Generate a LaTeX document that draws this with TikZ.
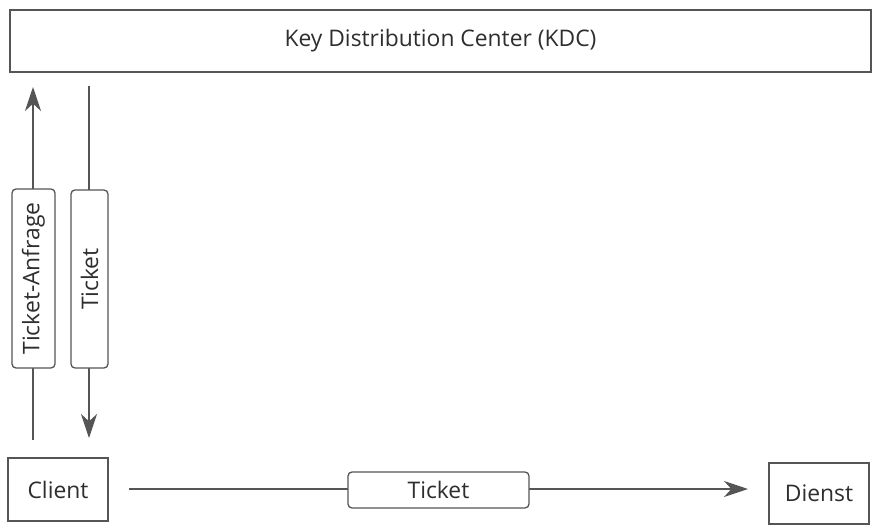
\documentclass[tikz,border=0pt]{standalone}
\usepackage{fontspec}
\setmainfont{Open Sans}
\usetikzlibrary{arrows.meta}
\definecolor{ln}{HTML}{555555}
\definecolor{tx}{HTML}{2E2E2E}
\begin{document}
\begin{tikzpicture}[x=0.03cm,y=-0.03cm,
  box/.style={draw=ln,line width=1.2pt,fill=white,inner sep=0pt,text=tx,font=\fontsize{19.5}{22}\selectfont},
  lbl/.style={draw=ln,line width=1.1pt,fill=white,rounded corners=0.12cm,inner sep=0pt,text=tx,font=\fontsize{19.5}{22}\selectfont},
  conn/.style={draw=ln,line width=1.1pt,-{Stealth[length=0.72cm,width=0.48cm,inset=0.22cm]}}]
\useasboundingbox (0,0) rectangle (883,530);
\node[box,minimum width=861*0.03cm,minimum height=62*0.03cm] (kdc) at (440.5,41) {Key Distribution Center (KDC)};
\node[box,minimum width=100*0.03cm,minimum height=63*0.03cm] (client) at (58,489.5) {Client};
\node[box,minimum width=100*0.03cm,minimum height=61*0.03cm] (dienst) at (819,493.5) {Dienst};
\coordinate (a1) at (33,440);
\coordinate (a2) at (33,87);
\coordinate (b1) at (89,86);
\coordinate (b2) at (89,438);
\coordinate (c1) at (129,489);
\coordinate (c2) at (748,489);
\draw[conn] (a1) -- (a2);
\draw[conn] (b1) -- (b2);
\draw[conn] (c1) -- (c2);
\node[lbl,rotate=90,minimum width=179*0.03cm,minimum height=43*0.03cm] (req) at (33.5,278.5) {Ticket-Anfrage};
\node[lbl,rotate=90,minimum width=178*0.03cm,minimum height=37*0.03cm] (tk1) at (89.5,279) {Ticket};
\node[lbl,minimum width=181*0.03cm,minimum height=36*0.03cm] (tk2) at (438.5,490) {Ticket};
\end{tikzpicture}
\end{document}
